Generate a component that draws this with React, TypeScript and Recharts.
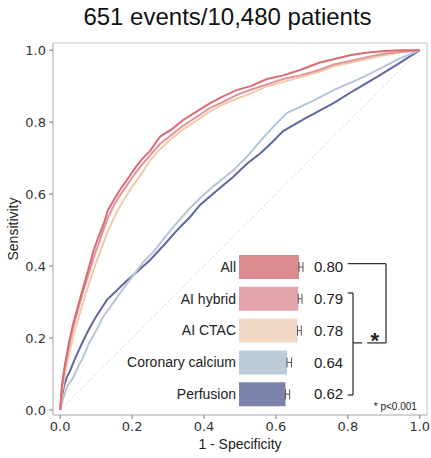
import React from "react";
import {
  Bar,
  BarChart,
  Cell,
  ErrorBar,
  Line,
  LineChart,
  ReferenceArea,
  ReferenceDot,
  ReferenceLine,
  XAxis,
  YAxis,
} from "recharts";

// ROC curves, [1 - specificity, sensitivity]
const rocAll: number[][] = [
  [0, 0], [0.005, 0.07], [0.014, 0.13], [0.025, 0.19], [0.036, 0.24], [0.05, 0.29],
  [0.064, 0.34], [0.078, 0.39], [0.092, 0.44], [0.106, 0.48], [0.12, 0.515], [0.133, 0.556],
  [0.15, 0.585], [0.165, 0.61], [0.186, 0.64], [0.21, 0.675], [0.23, 0.7], [0.25, 0.72],
  [0.278, 0.76], [0.31, 0.78], [0.342, 0.806], [0.38, 0.83], [0.417, 0.853], [0.45, 0.87],
  [0.49, 0.889], [0.53, 0.9], [0.575, 0.92], [0.62, 0.93], [0.667, 0.945], [0.72, 0.965],
  [0.76, 0.975], [0.806, 0.986], [0.85, 0.993], [0.9, 0.998], [0.95, 1], [1, 1],
];
const rocHybrid: number[][] = [
  [0, 0], [0.005, 0.065], [0.014, 0.125], [0.025, 0.18], [0.036, 0.23], [0.05, 0.28],
  [0.064, 0.33], [0.078, 0.375], [0.092, 0.42], [0.106, 0.46], [0.12, 0.5], [0.133, 0.535],
  [0.15, 0.57], [0.165, 0.595], [0.186, 0.625], [0.21, 0.66], [0.23, 0.685], [0.25, 0.708],
  [0.278, 0.74], [0.31, 0.765], [0.342, 0.79], [0.38, 0.815], [0.417, 0.84], [0.45, 0.855],
  [0.49, 0.875], [0.53, 0.89], [0.575, 0.905], [0.62, 0.92], [0.667, 0.93], [0.72, 0.945],
  [0.76, 0.96], [0.806, 0.97], [0.85, 0.98], [0.9, 0.99], [0.95, 0.996], [1, 1],
];
const rocCtac: number[][] = [
  [0, 0], [0.006, 0.055], [0.016, 0.115], [0.028, 0.17], [0.04, 0.22], [0.055, 0.27],
  [0.07, 0.32], [0.085, 0.365], [0.1, 0.41], [0.115, 0.45], [0.13, 0.49], [0.145, 0.525],
  [0.16, 0.555], [0.18, 0.59], [0.2, 0.62], [0.225, 0.655], [0.25, 0.694], [0.278, 0.725],
  [0.31, 0.755], [0.342, 0.78], [0.38, 0.805], [0.417, 0.83], [0.45, 0.848], [0.49, 0.865],
  [0.53, 0.88], [0.575, 0.9], [0.62, 0.912], [0.667, 0.925], [0.72, 0.94], [0.76, 0.955],
  [0.806, 0.965], [0.85, 0.975], [0.9, 0.986], [0.95, 0.994], [1, 1],
];
const rocCalcium: number[][] = [
  [0, 0], [0.008, 0.03], [0.019, 0.065], [0.036, 0.09], [0.05, 0.12], [0.064, 0.147],
  [0.08, 0.185], [0.1, 0.22], [0.12, 0.26], [0.147, 0.297], [0.17, 0.33], [0.2, 0.37],
  [0.23, 0.41], [0.26, 0.44], [0.287, 0.475], [0.32, 0.515], [0.36, 0.56], [0.39, 0.59],
  [0.43, 0.625], [0.48, 0.665], [0.52, 0.705], [0.55, 0.74], [0.575, 0.768], [0.6, 0.795],
  [0.63, 0.825], [0.7, 0.858], [0.76, 0.889], [0.82, 0.915], [0.88, 0.944], [0.94, 0.975], [1, 1],
];
const rocPerfusion: number[][] = [
  [0, 0], [0.004, 0.03], [0.01, 0.065], [0.018, 0.09], [0.028, 0.11], [0.04, 0.14],
  [0.056, 0.175], [0.07, 0.205], [0.083, 0.23], [0.1, 0.26], [0.13, 0.306], [0.16, 0.335],
  [0.186, 0.36], [0.22, 0.39], [0.25, 0.417], [0.29, 0.46], [0.325, 0.5], [0.36, 0.535],
  [0.389, 0.57], [0.43, 0.605], [0.48, 0.647], [0.52, 0.685], [0.556, 0.713], [0.59, 0.745],
  [0.62, 0.775], [0.68, 0.81], [0.76, 0.853], [0.82, 0.89], [0.88, 0.925], [0.94, 0.962], [1, 1],
];

// inset AUC bars
const models = ["All", "AI hybrid", "AI CTAC", "Coronary calcium", "Perfusion"];
const aucs = [0.8, 0.79, 0.78, 0.64, 0.62];
const aucUpper = [0.053, 0.05, 0.05, 0.06, 0.055];
const lineColors = ["#d96b73", "#e2939c", "#f3caa8", "#b4c6da", "#5f67a3"];
const barColors = ["#db8a8e", "#e3a4ac", "#f2d8c4", "#bccbd8", "#7d82ad"];
const axisTicks = [0, 0.2, 0.4, 0.6, 0.8, 1.0];

const curves = [rocPerfusion, rocCalcium, rocCtac, rocHybrid, rocAll];
const curveColors = [lineColors[4], lineColors[3], lineColors[2], lineColors[1], lineColors[0]];

const toPoints = (arr: number[][]) => arr.map(([x, y]) => ({ x, y }));

const barRows = models.map((name, i) => ({
  idx: i,
  name,
  auc: aucs[i],
  err: [0, aucUpper[i]],
}));

const SANS = "'Liberation Sans', Arial, sans-serif";
const TICK_FONT = "'DejaVu Sans', sans-serif";
const BRACKET = "#333";

export default function App() {
  return (
    <div
      style={{
        position: "absolute",
        left: 0,
        top: 0,
        width: 431,
        height: 458,
        background: "#fff",
        fontFamily: SANS,
      }}
    >
      <div
        style={{
          position: "absolute",
          left: 0,
          top: 5,
          width: 455,
          textAlign: "center",
          fontSize: 24,
          lineHeight: "24px",
          color: "#111",
        }}
      >
        651 events/10,480 patients
      </div>

      <div style={{ position: "absolute", left: 0, top: 0 }}>
        <LineChart
          width={431}
          height={458}
          margin={{ top: 43, right: 4, bottom: 13, left: 0 }}
        >
          <XAxis
            type="number"
            dataKey="x"
            domain={[-0.02, 1.02]}
            ticks={axisTicks}
            allowDataOverflow
            tickFormatter={(v: number) => v.toFixed(1)}
            stroke="#c4c4c4"
            tickLine={{ stroke: "#777" }}
            tickSize={4}
            tickMargin={3}
            height={30}
            tick={{ fill: "#333", fontSize: 13, fontFamily: TICK_FONT }}
            label={{
              value: "1 - Specificity",
              position: "insideBottom",
              offset: -4,
              fill: "#222",
              fontSize: 14,
              fontFamily: SANS,
            }}
          />
          <YAxis
            type="number"
            dataKey="y"
            domain={[-0.014, 1.02]}
            ticks={axisTicks}
            allowDataOverflow
            tickFormatter={(v: number) => v.toFixed(1)}
            stroke="#c4c4c4"
            tickLine={{ stroke: "#777" }}
            tickSize={4}
            tickMargin={3}
            width={53}
            tick={{ fill: "#333", fontSize: 13, fontFamily: TICK_FONT }}
            label={{
              value: "Sensitivity",
              angle: -90,
              position: "insideLeft",
              offset: 13,
              style: { textAnchor: "middle" },
              fill: "#222",
              fontSize: 14,
              fontFamily: SANS,
            }}
          />
          <ReferenceArea
            x1={-0.02}
            x2={1.02}
            y1={-0.014}
            y2={1.02}
            fill="none"
            stroke="#c4c4c4"
            strokeWidth={1}
          />
          <ReferenceLine
            segment={[
              { x: 0, y: 0 },
              { x: 1, y: 1 },
            ]}
            stroke="#dcdcdc"
            strokeDasharray="2 2"
          />
          {curves.map((c, i) => (
            <Line
              key={i}
              data={toPoints(c)}
              dataKey="y"
              type="linear"
              stroke={curveColors[i]}
              strokeWidth={2}
              dot={false}
              activeDot={false}
              isAnimationActive={false}
            />
          ))}
          <ReferenceDot
            x={0.932}
            y={0.01}
            r={1}
            fill="none"
            stroke="none"
            label={{ value: "* p<0.001", position: "center", fontSize: 10, fill: "#222", fontFamily: SANS }}
          />
        </LineChart>
      </div>

      <div style={{ position: "absolute", left: 0, top: 0, pointerEvents: "none" }}>
        <BarChart
          width={431}
          height={458}
          layout="vertical"
          data={barRows}
          margin={{ top: 251, right: 0, bottom: 48, left: 0 }}
        >
          <XAxis type="number" dataKey="auc" domain={[0, 1]} hide allowDataOverflow />
          <YAxis
            yAxisId="l"
            type="number"
            dataKey="idx"
            domain={[-0.5, 4.5]}
            ticks={[0, 1, 2, 3, 4]}
            width={239}
            axisLine={false}
            tickLine={false}
            tickSize={0}
            tickMargin={3}
            tickFormatter={(v: number) => models[v] ?? ""}
            tick={{ fill: "#222", fontSize: 14, fontFamily: SANS }}
          />
          <YAxis
            yAxisId="r"
            orientation="right"
            type="number"
            dataKey="idx"
            domain={[-0.5, 4.5]}
            ticks={[0, 1, 2, 3, 4]}
            width={117}
            axisLine={false}
            tickLine={false}
            tickSize={0}
            tickMargin={0}
            tickFormatter={(v: number) => (aucs[v] !== undefined ? aucs[v].toFixed(2) : "")}
            tick={{ fill: "#222", fontSize: 15, fontFamily: SANS }}
          />
          <Bar yAxisId="l" dataKey="auc" barSize={24} isAnimationActive={false}>
            {barRows.map((r, i) => (
              <Cell key={r.name} fill={barColors[i]} />
            ))}
            <ErrorBar dataKey="err" direction="x" width={5} stroke="#555" strokeWidth={1} />
          </Bar>
          {/* All vs the rest */}
          <ReferenceLine yAxisId="l" ifOverflow="visible" stroke={BRACKET} strokeWidth={1.3}
            segment={[{ x: 1.45, y: -0.1 }, { x: 1.96, y: -0.1 }]} />
          <ReferenceLine yAxisId="l" ifOverflow="visible" stroke={BRACKET} strokeWidth={1.3}
            segment={[{ x: 1.96, y: -0.1 }, { x: 1.96, y: 2.39 }]} />
          <ReferenceLine yAxisId="l" ifOverflow="visible" stroke={BRACKET} strokeWidth={1.3}
            segment={[{ x: 1.96, y: 2.39 }, { x: 1.71, y: 2.39 }]} />
          {/* bracket over the other four */}
          <ReferenceLine yAxisId="l" ifOverflow="visible" stroke={BRACKET} strokeWidth={1.3}
            segment={[{ x: 1.45, y: 0.82 }, { x: 1.52, y: 0.82 }]} />
          <ReferenceLine yAxisId="l" ifOverflow="visible" stroke={BRACKET} strokeWidth={1.3}
            segment={[{ x: 1.52, y: 0.82 }, { x: 1.52, y: 4.03 }]} />
          <ReferenceLine yAxisId="l" ifOverflow="visible" stroke={BRACKET} strokeWidth={1.3}
            segment={[{ x: 1.52, y: 4.03 }, { x: 1.45, y: 4.03 }]} />
          <ReferenceLine yAxisId="l" ifOverflow="visible" stroke={BRACKET} strokeWidth={1.3}
            segment={[{ x: 1.52, y: 2.39 }, { x: 1.64, y: 2.39 }]} />
          <ReferenceDot
            yAxisId="l"
            x={1.81}
            y={2.22}
            r={1}
            fill="none"
            stroke="none"
            ifOverflow="visible"
            label={{ value: "*", position: "center", fontSize: 22, fontWeight: "bold", fill: "#222", fontFamily: SANS, dy: 3 }}
          />
        </BarChart>
      </div>
    </div>
  );
}
